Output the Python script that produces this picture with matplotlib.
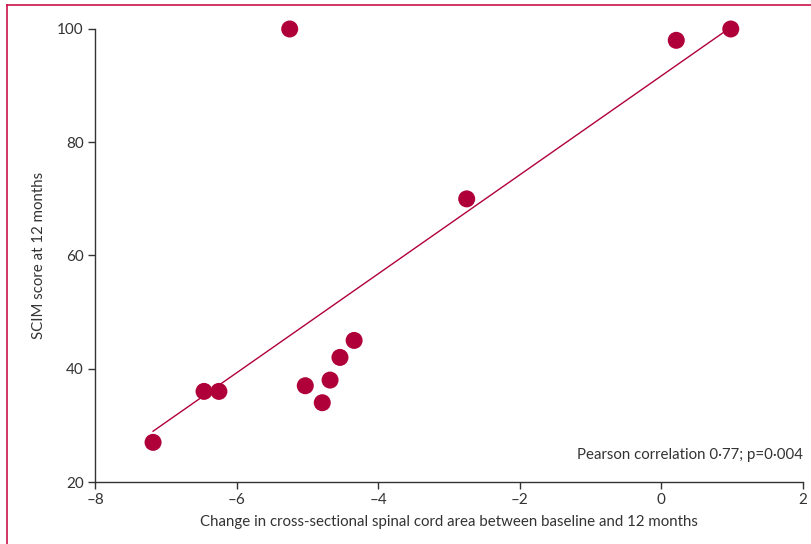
import numpy as np
import matplotlib.pyplot as plt
from matplotlib.lines import Line2D

plt.rcParams['font.family'] = ['Lato', 'DejaVu Sans']

# Change in cross-sectional spinal cord area (mm2) vs SCIM score at 12 months
area_change = [-7.18, -6.46, -6.25, -5.25, -5.03, -4.79, -4.68, -4.54, -4.34, -2.75, 0.21, 0.98]
scim_score = [27, 36, 36, 100, 37, 34, 38, 42, 45, 70, 98, 100]
x_ticks = [-8, -6, -4, -2, 0, 2]
y_ticks = [20, 40, 60, 80, 100]

red = '#b0003a'
frame_red = '#c8144a'
text_col = '#333333'

fig = plt.figure(figsize=(8.11, 5.44), dpi=100)
ax = fig.add_axes([95 / 811, 62 / 544, 708 / 811, 453 / 544])

x = np.array(area_change)
y = np.array(scim_score)
slope, intercept = np.polyfit(x, y, 1)
xl = np.array([x.min(), x.max()])
ax.plot(xl, slope * xl + intercept, color=red, lw=1.0, zorder=2)
ax.scatter(x, y, s=150, color=red, edgecolors='none', zorder=3, clip_on=False)

ax.set_xlim(-8, 2)
ax.set_ylim(20, 100)
ax.set_xticks(x_ticks)
ax.set_yticks(y_ticks)
ax.set_xticklabels(['\u20138', '\u20136', '\u20134', '\u20132', '0', '2'])
ax.spines['top'].set_visible(False)
ax.spines['right'].set_visible(False)
for s in ('left', 'bottom'):
    ax.spines[s].set_color(text_col)
    ax.spines[s].set_linewidth(1.0)
ax.tick_params(direction='out', length=5, width=1.0, color=text_col,
               labelsize=11, labelcolor=text_col, pad=3)

ax.set_xlabel('Change in cross-sectional spinal cord area between baseline and 12 months',
              fontsize=10.8, color=text_col, labelpad=6)
ax.set_ylabel('SCIM score at 12 months', fontsize=10.8, color=text_col, labelpad=8)
ax.text(1.0, 0.06, 'Pearson correlation 0\u00b777; p=0\u00b7004', transform=ax.transAxes,
        ha='right', va='center', fontsize=10.8, color=text_col)

# outer frame (top and left)
fig.add_artist(Line2D([7 / 811, 7 / 811], [0, 1 - 5 / 544], color=frame_red, lw=1.2,
                      transform=fig.transFigure))
fig.add_artist(Line2D([7 / 811, 1], [1 - 5 / 544, 1 - 5 / 544], color=frame_red, lw=1.2,
                      transform=fig.transFigure))

fig.savefig('out.png', dpi=100)
